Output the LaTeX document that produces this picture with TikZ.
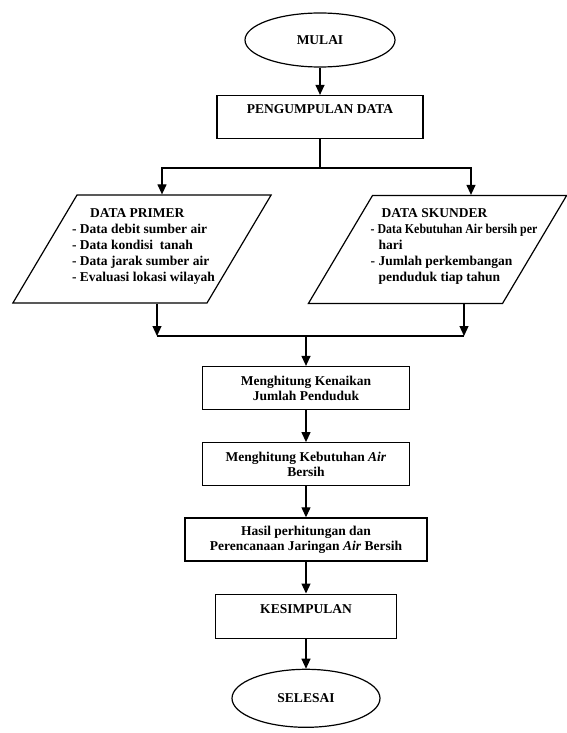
\documentclass[tikz,border=0pt]{standalone}
\usepackage{fontspec}
\setmainfont{Liberation Serif}
\usetikzlibrary{shapes.geometric, arrows.meta, positioning}

\begin{document}
\begin{tikzpicture}[x=1pt, y=-1pt, line width=1.2pt,
    font=\fontsize{13.5}{15}\selectfont\bfseries,
    terminal/.style={ellipse, draw, minimum width=150pt, minimum height=54pt},
    process/.style={rectangle, draw, align=center, minimum height=43pt},
    inout/.style={trapezium, draw, trapezium left angle=59.3, trapezium right angle=120.7,
                  inner sep=0pt, text width=130pt, text height=108pt, text depth=0pt},
    datatext/.style={align=left, inner sep=0pt, font=\fontsize{13.5}{16}\selectfont\bfseries},
    arrow/.style={-{Triangle[length=10pt, width=9pt]}}]

    \useasboundingbox (0,0) rectangle (566,733);

    % Start and data collection
    \node[terminal] (mulai) at (320, 40) {MULAI};
    \node[process, minimum width=206pt] (kumpul) at (320, 117) {PENGUMPULAN DATA\\ \mbox{}};

    % Data sources
    \node[inout] (primer) at (142, 249) {};
    \node[inout] (skunder) at (437.5, 249.5) {};
    \node[datatext] (primerList) at ([xshift=1.5pt, yshift=3pt]primer.center)
        {\hspace*{18pt}DATA PRIMER\\
         - Data debit sumber air\\
         - Data kondisi\ \ tanah\\
         - Data jarak sumber air\\
         - Evaluasi lokasi wilayah};
    \node[datatext] (skunderList) at ([xshift=16.5pt, yshift=3pt]skunder.center)
        {\hspace*{11pt}DATA SKUNDER\\
         \scalebox{0.88}[1]{- Data Kebutuhan Air bersih per}\\
         \hspace*{8pt}hari\\
         - Jumlah perkembangan\\
         \hspace*{8pt}penduduk tiap tahun};

    % Processing steps
    \node[process, minimum width=207pt] (kenaikan) at (306, 388) {Menghitung Kenaikan\\Jumlah Penduduk};
    \node[process, minimum width=207pt, below=32pt of kenaikan] (kebutuhan) {Menghitung Kebutuhan \textit{Air}\\Bersih};
    \node[process, minimum width=242pt, below=31pt of kebutuhan] (hasil) {Hasil perhitungan dan\\Perencanaan Jaringan \textit{Air} Bersih};
    \node[process, minimum width=181pt, minimum height=44pt, below=32pt of hasil] (kesimpulan) {KESIMPULAN\\ \mbox{}};
    \node[terminal, minimum width=148pt, minimum height=58pt, below=30pt of kesimpulan] (selesai) {SELESAI};

    % Branch points
    \coordinate (splitL) at (162, 168);
    \coordinate (splitR) at (471, 168);
    \coordinate (mergeL) at (157, 336);
    \coordinate (mergeR) at (464, 336);

    % Arrows
    \draw[arrow] (mulai) -- (kumpul);
    \draw[arrow] (kumpul.south) |- (splitL) -- (splitL |- primer.north);
    \draw[arrow] (kumpul.south) |- (splitR) -- (splitR |- skunder.north);
    \draw[arrow] (mergeL |- primer.south) -- (mergeL);
    \draw[arrow] (mergeR |- skunder.south) -- (mergeR);
    \draw (mergeL) -- (mergeR);
    \draw[arrow] (kenaikan.north |- mergeL) -- (kenaikan);
    \draw[arrow] (kenaikan) -- (kebutuhan);
    \draw[arrow] (kebutuhan) -- (hasil);
    \draw[arrow] (hasil) -- (kesimpulan);
    \draw[arrow] (kesimpulan) -- (selesai);
\end{tikzpicture}
\end{document}
